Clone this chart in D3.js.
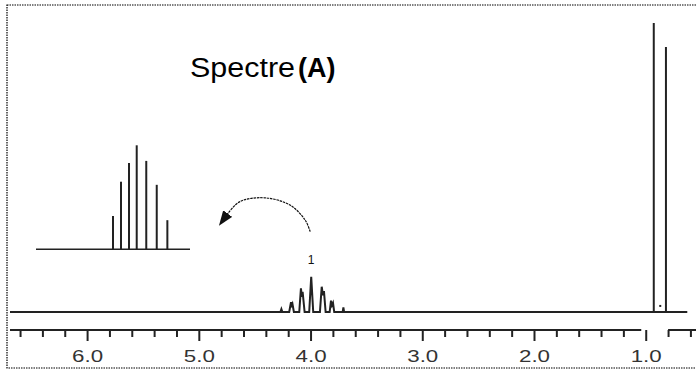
<!DOCTYPE html>
<html>
<head>
<meta charset="utf-8">
<script src="https://cdn.jsdelivr.net/npm/d3@7"></script>
<style>
  html, body { margin: 0; padding: 0; background: #fff; }
  svg { display: block; font-family: "Liberation Sans", Arial, sans-serif; }
</style>
</head>
<body>
<div id="chart"></div>
<script>
// spectrum trace: [ppm, relative intensity]
const trace = [
  [6.69, 0],
  [4.270, 0], [4.261, 1.0], [4.252, 0],
  [4.191, 0], [4.175, 3.4], [4.168, 2.3], [4.162, 2.8], [4.149, 0],
  [4.101, 0], [4.086, 8.2], [4.078, 5.2], [4.071, 7.0], [4.053, 0],
  [4.012, 0], [3.994, 12.2], [3.976, 0],
  [3.916, 0], [3.900, 8.75], [3.889, 5.8], [3.880, 7.2], [3.865, 0],
  [3.829, 0], [3.817, 3.9], [3.808, 2.3], [3.799, 3.1], [3.788, 0],
  [3.712, 0], [3.706, 1.6], [3.700, 0],
  [0.928, 0], [0.928, 100], [0.928, 0],
  [0.819, 0], [0.819, 91.7], [0.819, 0],
  [0.628, 0]
];
const specks = [[0.870, 2.1]];
const peakLabels = [{ ppm: 3.994, value: 16.6, text: '1' }];

// zoomed multiplet inset (stick diagram)
const insetPos = [0.5, 0.552, 0.604, 0.654, 0.716, 0.784, 0.853];
const insetHeights = [32, 65, 83, 100, 85, 62, 28];

// curved arrow from the multiplet to the inset, in ppm / intensity units
const arrowPath = [[4.003, 27.8], [4.048, 31.8], [4.184, 37.0], [4.408, 39.5], [4.632, 38.2], [4.752, 33.5]];

const majorTicks = [6, 5, 4, 3, 2, 1];
const minorTicks = d3.range(66, 5, -2).map((d) => d / 10).filter((d) => d % 1 !== 0);
const axisBreak = [1.04, 0.80];

const width = 696, height = 372;
const x = d3.scaleLinear().domain([6.69, 0.55]).range([10, 696]);
const y = d3.scaleLinear().domain([0, 100]).range([312, 23]);
const ix = d3.scaleLinear().domain([0, 1]).range([36, 190]);
const iy = d3.scaleLinear().domain([0, 100]).range([249.3, 145.3]);
const ink = '#222';

const svg = d3.select('#chart').append('svg').attr('width', width).attr('height', height);

svg.append('rect')
  .attr('x', 7).attr('y', 5).attr('width', 700).attr('height', 363)
  .attr('fill', 'none').attr('stroke', '#000').attr('stroke-width', 1.2)
  .attr('stroke-dasharray', '1.5,1');

// title
const title = svg.append('text').attr('y', 77).attr('font-size', 27).attr('fill', '#000');
title.append('tspan').attr('x', 190).attr('textLength', 105).attr('lengthAdjust', 'spacingAndGlyphs').text('Spectre');
title.append('tspan').attr('x', 298).attr('font-weight', 'bold').text('(A)');

// spectrum
svg.append('path')
  .datum(trace)
  .attr('d', d3.line().x((d) => x(d[0])).y((d) => y(d[1])))
  .attr('fill', 'none').attr('stroke', ink).attr('stroke-width', 2)
  .attr('stroke-linejoin', 'miter');

svg.selectAll('.speck').data(specks).join('rect')
  .attr('x', (d) => x(d[0]) - 1).attr('y', (d) => y(d[1]) - 1)
  .attr('width', 2).attr('height', 2).attr('fill', ink);

svg.selectAll('.peak-label').data(peakLabels).join('text')
  .attr('x', (d) => x(d.ppm)).attr('y', (d) => y(d.value))
  .attr('text-anchor', 'middle').attr('font-size', 12).attr('fill', '#111')
  .text((d) => d.text);

// inset
svg.append('line')
  .attr('x1', ix(0)).attr('x2', ix(1)).attr('y1', iy(0)).attr('y2', iy(0))
  .attr('stroke', ink).attr('stroke-width', 1.5);
svg.selectAll('.stick').data(insetPos).join('line')
  .attr('x1', (d) => ix(d)).attr('x2', (d) => ix(d))
  .attr('y1', iy(0)).attr('y2', (d, i) => iy(insetHeights[i]))
  .attr('stroke', ink).attr('stroke-width', 2);

// arrow
svg.append('defs').append('marker')
  .attr('id', 'head').attr('markerUnits', 'userSpaceOnUse')
  .attr('markerWidth', 16).attr('markerHeight', 12)
  .attr('viewBox', '0 -6 16 12').attr('refX', 2).attr('refY', 0).attr('orient', 'auto')
  .append('path').attr('d', 'M0,-5.5L15,0L0,5.5Z').attr('fill', '#111');
svg.append('path')
  .datum(arrowPath)
  .attr('d', d3.line().x((d) => x(d[0])).y((d) => y(d[1])).curve(d3.curveCatmullRom))
  .attr('fill', 'none').attr('stroke', '#111').attr('stroke-width', 1.2)
  .attr('stroke-dasharray', '2.5,0.8')
  .attr('marker-end', 'url(#head)');

// axis
const axisY = 330;
const segments = [[x.domain()[0], axisBreak[0]], [axisBreak[1], x.domain()[1]]];
svg.selectAll('.axis-seg').data(segments).join('line')
  .attr('x1', (d) => x(d[0])).attr('x2', (d) => x(d[1]))
  .attr('y1', axisY).attr('y2', axisY)
  .attr('stroke', ink).attr('stroke-width', 2);

const minorAxis = svg.append('g').attr('transform', `translate(0,${axisY})`)
  .call(d3.axisBottom(x).tickValues(minorTicks).tickSize(7).tickFormat(''));
minorAxis.select('.domain').remove();
minorAxis.selectAll('line').attr('stroke', ink).attr('stroke-width', 2);

const majorAxis = svg.append('g').attr('transform', `translate(0,${axisY})`)
  .call(d3.axisBottom(x).tickValues(majorTicks).tickSize(11).tickFormat(d3.format('.1f')));
majorAxis.select('.domain').remove();
majorAxis.selectAll('line').attr('stroke', ink).attr('stroke-width', 2);
majorAxis.selectAll('text')
  .attr('y', 32).attr('dy', null)
  .attr('font-family', '"Liberation Sans", Arial, sans-serif')
  .attr('font-size', 16).attr('fill', '#333')
  .attr('textLength', 31).attr('lengthAdjust', 'spacingAndGlyphs');
</script>
</body>
</html>
